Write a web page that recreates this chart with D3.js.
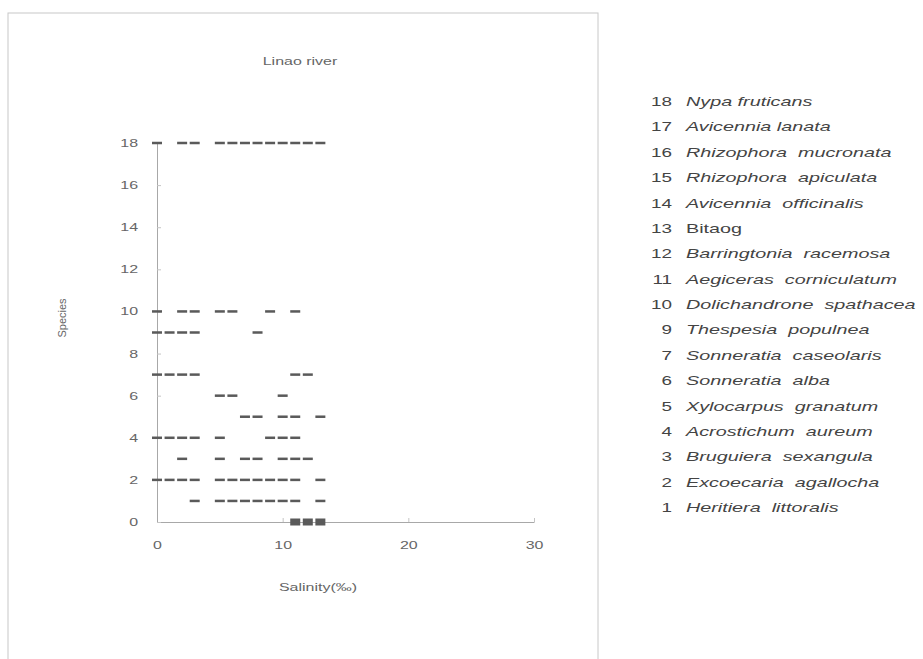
<!DOCTYPE html>
<html>
<head>
<meta charset="utf-8">
<script src="https://cdn.jsdelivr.net/npm/d3@7"></script>
<style>
  body { margin: 0; background: #fff; }
  svg { display: block; }
  text.name { white-space: pre; }
</style>
</head>
<body>
<svg id="chart" width="923" height="659"></svg>
<script>
// salinity (per mille) at which each species number was recorded
const sal18 = [0, 2, 3, 5, 6, 7, 8, 9, 10, 11, 12, 13]
const sal10 = [0, 2, 3, 5, 6, 9, 11]
const sal9 = [0, 1, 2, 3, 8]
const sal7 = [0, 1, 2, 3, 11, 12]
const sal6 = [5, 6, 10]
const sal5 = [7, 8, 10, 11, 13]
const sal4 = [0, 1, 2, 3, 5, 9, 10, 11]
const sal3 = [2, 5, 7, 8, 10, 11, 12]
const sal2 = [0, 1, 2, 3, 5, 6, 7, 8, 9, 10, 11, 13]
const sal1 = [3, 5, 6, 7, 8, 9, 10, 11, 13]
const sal0 = [11, 12, 13]

const xTicks = [0, 10, 20, 30]
const yTicks = [0, 2, 4, 6, 8, 10, 12, 14, 16, 18]

const speciesNo = [18, 17, 16, 15, 14, 13, 12, 11, 10, 9, 7, 6, 5, 4, 3, 2, 1]
const speciesName = ["Nypa fruticans", "Avicennia lanata", "Rhizophora  mucronata",
    "Rhizophora  apiculata", "Avicennia  officinalis", "Bitaog", "Barringtonia  racemosa",
    "Aegiceras  corniculatum", "Dolichandrone  spathacea", "Thespesia  populnea",
    "Sonneratia  caseolaris", "Sonneratia  alba", "Xylocarpus  granatum",
    "Acrostichum  aureum", "Bruguiera  sexangula", "Excoecaria  agallocha",
    "Heritiera  littoralis"]

let rows = [[18, sal18], [10, sal10], [9, sal9], [7, sal7], [6, sal6], [5, sal5],
    [4, sal4], [3, sal3], [2, sal2], [1, sal1], [0, sal0]]
let points = rows.flatMap(([sp, vals]) => vals.map(v => ({species: sp, salinity: v})))

// the scanned figure is stretched sideways, so widen text to match
function stretch(sel, k = 1.45) {
    sel.each(function () {
        let w = this.getComputedTextLength()
        d3.select(this).attr("textLength", w * k).attr("lengthAdjust", "spacingAndGlyphs")
    })
}

const svg = d3.select("#chart")
let x = d3.scaleLinear().domain([0, 30]).range([157, 534])
let y = d3.scaleLinear().domain([0, 18]).range([522, 143])

// outer frame of the chart area
svg.append("rect")
    .attr("x", 8).attr("y", 13)
    .attr("width", 590).attr("height", 660)
    .attr("fill", "none")
    .attr("stroke", "#c8c8c8")
    .attr("stroke-width", 1)

let xAxis = g => g
    .attr("transform", `translate(0,${y(0)})`)
    .call(d3.axisBottom(x).tickValues(xTicks).tickSizeInner(-4).tickSizeOuter(0).tickPadding(19))
let yAxis = g => g
    .attr("transform", `translate(${x(0)},0)`)
    .call(d3.axisLeft(y).tickValues(yTicks).tickSizeInner(-4).tickSizeOuter(0).tickPadding(19))

for (let ax of [xAxis, yAxis]) {
    let g = svg.append("g").call(ax)
    g.attr("font-family", "'Liberation Sans', Arial, sans-serif").attr("font-size", 11)
    g.select(".domain").attr("stroke", "#a8a8a8")
    g.selectAll(".tick line").attr("stroke", "#c4c4c4")
    g.selectAll(".tick text").attr("fill", "#666").call(stretch)
}

svg.append("g")
    .selectAll("rect")
    .data(points)
    .join("rect")
    .attr("x", d => x(d.salinity) - 5)
    .attr("y", d => y(d.species) - (d.species === 0 ? 3.5 : 1.25))
    .attr("width", 10)
    .attr("height", d => d.species === 0 ? 7 : 2.5)
    .attr("fill", "#5a5a5a")

svg.append("text")
    .attr("x", 300).attr("y", 65)
    .attr("text-anchor", "middle")
    .attr("font-family", "'Liberation Sans', Arial, sans-serif")
    .attr("font-size", 11)
    .attr("fill", "#666")
    .text("Linao river")
    .call(stretch)

svg.append("text")
    .attr("x", 318).attr("y", 591)
    .attr("text-anchor", "middle")
    .attr("font-family", "'Liberation Sans', Arial, sans-serif")
    .attr("font-size", 11)
    .attr("fill", "#666")
    .text("Salinity(‰)")
    .call(stretch)

svg.append("text")
    .attr("transform", "translate(66,318) rotate(-90)")
    .attr("text-anchor", "middle")
    .attr("font-family", "'Liberation Sans', Arial, sans-serif")
    .attr("font-size", 11)
    .attr("fill", "#666")
    .text("Species")

// species key on the right
let ly = d3.scalePoint().domain(speciesNo).range([106, 512])
let legend = svg.append("g")
    .attr("font-family", "'Liberation Sans', Arial, sans-serif")
    .attr("font-size", 13)
    .attr("fill", "#444")
legend.selectAll("text.num")
    .data(speciesNo)
    .join("text")
    .attr("class", "num")
    .attr("x", 672)
    .attr("y", d => ly(d))
    .attr("text-anchor", "end")
    .text(d => d)
    .call(stretch)
legend.selectAll("text.name")
    .data(speciesNo)
    .join("text")
    .attr("class", "name")
    .attr("x", 686)
    .attr("y", d => ly(d))
    .attr("font-style", (d, i) => speciesName[i] === "Bitaog" ? "normal" : "italic")
    .text((d, i) => speciesName[i])
    .call(stretch, 1.52)
</script>
</body>
</html>
